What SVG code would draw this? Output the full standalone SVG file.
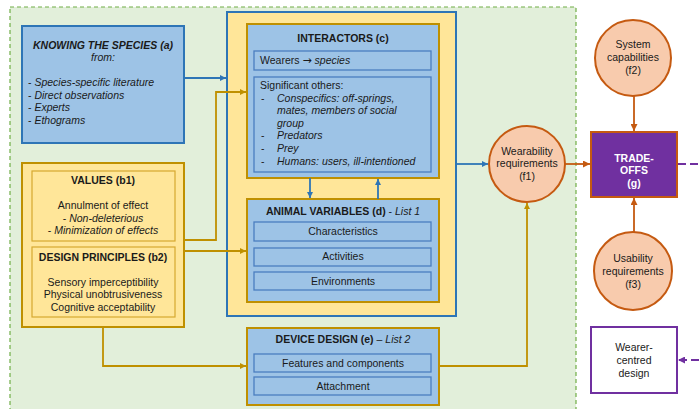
<svg xmlns="http://www.w3.org/2000/svg" width="699" height="409" viewBox="0 0 699 409">
<style>
text{font-family:"Liberation Sans",Arial,sans-serif;font-size:10.5px;fill:#1a1a1a}
.b{font-weight:bold}
.i{font-style:italic}
.c{text-anchor:middle}
.bluebox{fill:#9DC3E6;stroke:#2E75B6;stroke-width:2}
.goldbox{fill:#9DC3E6;stroke:#BF9000;stroke-width:2}
.sub{fill:#9DC3E6;stroke:#4A7EC0;stroke-width:1.3}
.yel{fill:#FFE699;stroke:#BF9000;stroke-width:2}
.yelsub{fill:#FFE699;stroke:#D6A830;stroke-width:1.2}
.circ{fill:#F8CBAD;stroke:#C55A11;stroke-width:2}
.cb{fill:none;stroke:#2E75B6;stroke-width:1.8}
.cg{fill:none;stroke:#BF9000;stroke-width:1.8}
.co{fill:none;stroke:#C55A11;stroke-width:1.8}
.cp{fill:none;stroke:#7030A0;stroke-width:1.8;stroke-dasharray:8 4}
</style>
<defs>
<marker id="ab" viewBox="0 0 8 8" refX="8" refY="4" markerWidth="6" markerHeight="6" markerUnits="userSpaceOnUse" orient="auto"><path d="M0,0L8,4L0,8z" fill="#2E75B6"/></marker>
<marker id="ag" viewBox="0 0 8 8" refX="8" refY="4" markerWidth="6" markerHeight="6" markerUnits="userSpaceOnUse" orient="auto"><path d="M0,0L8,4L0,8z" fill="#BF9000"/></marker>
<marker id="ao" viewBox="0 0 8 8" refX="8" refY="4" markerWidth="7" markerHeight="7" markerUnits="userSpaceOnUse" orient="auto"><path d="M0,0L8,4L0,8z" fill="#C55A11"/></marker>
<marker id="ap" viewBox="0 0 8 8" refX="8" refY="4" markerWidth="7" markerHeight="7" markerUnits="userSpaceOnUse" orient="auto"><path d="M0,0L8,4L0,8z" fill="#7030A0"/></marker>
</defs>
<rect width="699" height="409" fill="#ffffff"/>
<rect x="10" y="7" width="566" height="410" fill="#E2EFDA" stroke="#70AD47" stroke-width="1.2" stroke-dasharray="4 3"/>

<g id="big-container">
<rect x="227" y="12" width="229" height="304" fill="#FFE699" stroke="#2E75B6" stroke-width="2"/>
</g>

<g id="knowing">
<rect class="bluebox" x="22" y="26" width="162" height="117"/>
<text class="b i c" x="103" y="49">KNOWING THE SPECIES (a)</text>
<text class="i c" x="103" y="61">from:</text>
<text x="28" y="86">- <tspan class="i">Species-specific literature</tspan></text>
<text x="28" y="99">- <tspan class="i">Direct observations</tspan></text>
<text x="28" y="111">- <tspan class="i">Experts</tspan></text>
<text x="28" y="124">- <tspan class="i">Ethograms</tspan></text>
</g>

<g id="values-design">
<rect class="yel" x="22" y="163" width="162" height="164"/>
<rect class="yelsub" x="32" y="171" width="143" height="70"/>
<text class="b c" x="103" y="184">VALUES (b1)</text>
<text class="c" x="103" y="209">Annulment of effect</text>
<text class="c" x="103" y="222">- <tspan class="i">Non-deleterious</tspan></text>
<text class="c" x="103" y="234">- <tspan class="i">Minimization of effects</tspan></text>
<rect class="yelsub" x="32" y="247" width="143" height="70"/>
<text class="b c" x="103" y="261">DESIGN PRINCIPLES (b2)</text>
<text class="c" x="103" y="286">Sensory imperceptibility</text>
<text class="c" x="103" y="298">Physical unobtrusiveness</text>
<text class="c" x="103" y="311">Cognitive acceptability</text>
</g>

<g id="interactors">
<rect class="goldbox" x="247" y="24" width="192" height="154"/>
<text class="b c" x="343" y="42">INTERACTORS (c)</text>
<rect class="sub" x="254" y="51" width="177" height="19"/>
<text x="260" y="64">Wearers <tspan style="font-family:'DejaVu Sans',sans-serif;font-size:11px">→</tspan> <tspan class="i">species</tspan></text>
<rect class="sub" x="254" y="77" width="177" height="95"/>
<text x="260" y="89">Significant others:</text>
<text x="261" y="102">-</text><text class="i" x="277" y="102">Conspecifics: off-springs,</text>
<text class="i" x="277" y="114">mates, members of social</text>
<text class="i" x="277" y="127">group</text>
<text x="261" y="139">-</text><text class="i" x="277" y="139">Predators</text>
<text x="261" y="152">-</text><text class="i" x="277" y="152">Prey</text>
<text x="261" y="165">-</text><text class="i" x="277" y="165">Humans: users, ill-intentioned</text>
</g>

<g id="animal-variables">
<rect class="goldbox" x="247" y="199" width="192" height="103"/>
<text class="c" x="343" y="215"><tspan class="b">ANIMAL VARIABLES (d)</tspan> - <tspan class="i">List 1</tspan></text>
<rect class="sub" x="254" y="222" width="177" height="19"/>
<text class="c" x="343" y="235">Characteristics</text>
<rect class="sub" x="254" y="248" width="177" height="18"/>
<text class="c" x="343" y="260">Activities</text>
<rect class="sub" x="254" y="272" width="177" height="18"/>
<text class="c" x="343" y="285">Environments</text>
</g>

<g id="device-design">
<rect class="goldbox" x="247" y="328" width="192" height="77"/>
<text class="c" x="343" y="343"><tspan class="b">DEVICE DESIGN (e)</tspan> – <tspan class="i">List 2</tspan></text>
<rect class="sub" x="254" y="354" width="177" height="18"/>
<text class="c" x="343" y="367">Features and components</text>
<rect class="sub" x="254" y="377" width="177" height="18"/>
<text class="c" x="343" y="390">Attachment</text>
</g>

<g id="f1">
<circle class="circ" cx="527" cy="164" r="38"/>
<text class="c" x="527" y="155">Wearability</text>
<text class="c" x="527" y="167">requirements</text>
<text class="c" x="527" y="180">(f1)</text>
</g>

<g id="f2">
<circle class="circ" cx="633" cy="58" r="38"/>
<text class="c" x="633" y="48">System</text>
<text class="c" x="633" y="61">capabilities</text>
<text class="c" x="633" y="74">(f2)</text>
</g>

<g id="f3">
<circle class="circ" cx="633" cy="271" r="39"/>
<text class="c" x="633" y="262">Usability</text>
<text class="c" x="633" y="275">requirements</text>
<text class="c" x="633" y="288">(f3)</text>
</g>

<g id="trade-offs">
<rect x="591" y="132" width="86" height="65" fill="#7030A0" stroke="#C55A11" stroke-width="2"/>
<text class="b c" x="634" y="162" style="fill:#fff">TRADE-</text>
<text class="b c" x="634" y="174" style="fill:#fff">OFFS</text>
<text class="b c" x="634" y="187" style="fill:#fff">(g)</text>
</g>

<g id="wearer-centred">
<rect x="591" y="327" width="86" height="66" fill="#fff" stroke="#7030A0" stroke-width="2"/>
<text class="c" x="634" y="351">Wearer-</text>
<text class="c" x="634" y="364">centred</text>
<text class="c" x="634" y="377">design</text>
</g>

<g id="connectors">
<path class="cb" d="M184,78H226" marker-end="url(#ab)"/>
<path class="cg" d="M184,240H216V92H246" marker-end="url(#ag)"/>
<path class="cg" d="M184,251H246" marker-end="url(#ag)"/>
<path class="cg" d="M103,327V366H246" marker-end="url(#ag)"/>
<path class="cb" d="M310,178V198" marker-end="url(#ab)"/>
<path class="cb" d="M378,199V179" marker-end="url(#ab)"/>
<path class="cb" d="M456,164H488" marker-end="url(#ab)"/>
<path class="cg" d="M439,366H527V203" marker-end="url(#ag)"/>
<path class="co" d="M565,164H590" marker-end="url(#ao)"/>
<path class="co" d="M634,96V131" marker-end="url(#ao)"/>
<path class="co" d="M634,232V198" marker-end="url(#ao)"/>
<path class="cp" d="M678,164H699"/>
<path class="cp" d="M699,360H678" marker-end="url(#ap)"/>
</g>
</svg>
